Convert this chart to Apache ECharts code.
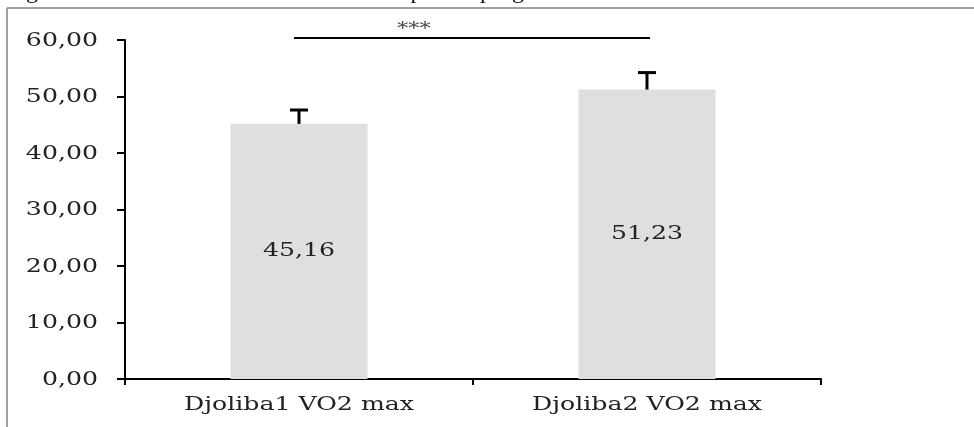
<!DOCTYPE html>
<html>
<head>
<meta charset="utf-8">
<script src="https://cdn.jsdelivr.net/npm/echarts@6/dist/echarts.min.js"></script>
<style>html,body{margin:0;padding:0;background:#fff;}#c{width:974px;height:427px;}</style>
</head>
<body>
<div id="c"></div>
<script>
const categories = ['Djoliba1 VO2 max', 'Djoliba2 VO2 max'];
const means = [45.16, 51.23];
const errors = [2.45, 3.0];
const yTicks = [0, 10, 20, 30, 40, 50, 60];
const sigPair = [0, 1];
const sigLevel = 60.35;
const sigLabel = '***';
const captionText = "Figure 4 : Résultat du test Stade avant et après le programme d'entraînement";

const fmt = v => v.toFixed(2).replace('.', ',');
const TXT_FONT = '18px "DejaVu Serif"';
const STRETCH = 1.4;

const chart = echarts.init(document.getElementById('c'), null, {renderer: 'canvas'});
chart.setOption({
  animation: false,
  backgroundColor: '#fff',
  grid: {left: 125, right: 153, top: 40, bottom: 48, containLabel: false},
  xAxis: {
    type: 'category',
    data: categories,
    axisLine: {lineStyle: {color: '#000', width: 2}},
    axisTick: {show: true, length: 6, lineStyle: {color: '#000', width: 2}},
    axisLabel: {show: false}
  },
  yAxis: {
    type: 'value',
    min: yTicks[0], max: yTicks[yTicks.length - 1], interval: yTicks[1] - yTicks[0],
    splitLine: {show: false},
    axisLine: {show: true, lineStyle: {color: '#000', width: 2}},
    axisTick: {show: true, length: 8, lineStyle: {color: '#000', width: 2}},
    axisLabel: {show: false}
  },
  graphic: [
    {type: 'line', shape: {x1: 7, y1: 8, x2: 7, y2: 427}, style: {stroke: '#a0a0a0', lineWidth: 2}},
    {type: 'line', shape: {x1: 7, y1: 8, x2: 974, y2: 8}, style: {stroke: '#a0a0a0', lineWidth: 2}},
    {type: 'text', x: 6, y: -8, style: {text: captionText, font: '24px "Liberation Serif"', fill: '#111', textVerticalAlign: 'middle'}}
  ],
  series: [
    {
      type: 'bar',
      data: means,
      barWidth: 137,
      itemStyle: {color: '#dfdfdf'},
      label: {show: false}
    },
    {
      // value labels in the middle of each bar
      type: 'custom',
      data: means.map((m, i) => [i, m]),
      clip: false,
      z: 4,
      renderItem: (params, api) => {
        const p = api.coord([api.value(0), api.value(1) / 2]);
        return {type: 'text', x: p[0], y: p[1], scaleX: STRETCH,
          style: {text: fmt(api.value(1)), font: TXT_FONT, fill: '#222', textAlign: 'center', textVerticalAlign: 'middle'}};
      }
    },
    {
      // y tick labels
      type: 'custom',
      data: yTicks.map(t => [0, t]),
      clip: false,
      z: 4,
      renderItem: (params, api) => {
        const p = api.coord([0, api.value(1)]);
        return {type: 'text', x: params.coordSys.x - 27, y: p[1] + 1, scaleX: STRETCH,
          style: {text: fmt(api.value(1)), font: TXT_FONT, fill: '#222', textAlign: 'right', textVerticalAlign: 'middle'}};
      }
    },
    {
      // category labels
      type: 'custom',
      data: categories.map((c, i) => [i, 0]),
      clip: false,
      z: 4,
      renderItem: (params, api) => {
        const p = api.coord([api.value(0), api.value(1)]);
        return {type: 'text', x: p[0], y: p[1] + 26, scaleX: STRETCH,
          style: {text: categories[api.value(0)], font: TXT_FONT, fill: '#222', textAlign: 'center', textVerticalAlign: 'middle'}};
      }
    },
    {
      // error bars (upper only)
      type: 'custom',
      data: categories.map((c, i) => [i, means[i], means[i] + errors[i]]),
      clip: false,
      z: 5,
      renderItem: (params, api) => {
        const p0 = api.coord([api.value(0), api.value(1)]);
        const p1 = api.coord([api.value(0), api.value(2)]);
        return {
          type: 'group',
          children: [
            {type: 'line', shape: {x1: p1[0], y1: p0[1], x2: p1[0], y2: p1[1]}, style: {stroke: '#000', lineWidth: 3}},
            {type: 'line', shape: {x1: p1[0] - 9, y1: p1[1], x2: p1[0] + 9, y2: p1[1]}, style: {stroke: '#000', lineWidth: 3}}
          ]
        };
      }
    },
    {
      // significance bracket
      type: 'custom',
      data: [[sigPair[0], sigPair[1], sigLevel]],
      clip: false,
      z: 5,
      renderItem: (params, api) => {
        const a = api.coord([api.value(0), api.value(2)]);
        const b = api.coord([api.value(1), api.value(2)]);
        return {
          type: 'group',
          children: [
            {type: 'line', shape: {x1: a[0] - 5, y1: a[1], x2: b[0] + 3, y2: b[1]}, style: {stroke: '#000', lineWidth: 2}},
            {type: 'text', x: a[0] + (b[0] - a[0]) * 0.33, y: a[1] - 8, scaleX: STRETCH,
              style: {text: sigLabel, font: '16px "DejaVu Serif"', fill: '#444', textAlign: 'center', textVerticalAlign: 'middle'}}
          ]
        };
      }
    }
  ]
});
</script>
</body>
</html>
